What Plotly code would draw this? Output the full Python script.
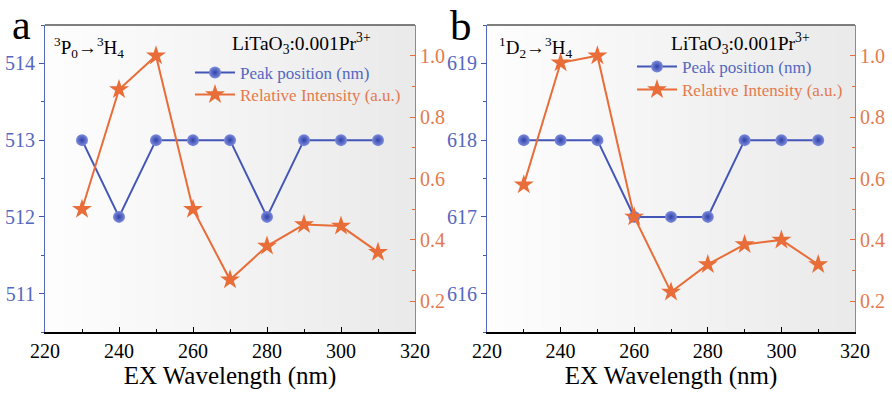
import plotly.graph_objects as go

# Excitation wavelengths (nm)
ex_wavelength = [230, 240, 250, 260, 270, 280, 290, 300, 310]

# (a) 3P0 -> 3H4 emission
peak_a = [513, 512, 513, 513, 513, 512, 513, 513, 513]
intensity_a = [0.50, 0.89, 1.00, 0.50, 0.27, 0.38, 0.45, 0.445, 0.36]

# (b) 1D2 -> 3H4 emission
peak_b = [618, 618, 618, 617, 617, 617, 618, 618, 618]
intensity_b = [0.58, 0.977, 1.00, 0.475, 0.23, 0.32, 0.385, 0.40, 0.32]

BLUE = "#4356b8"
BLUE_TXT = "#5468c0"
ORANGE = "#e86d38"
ORANGE_TXT = "#e47a4e"
FONT = "Times New Roman, Liberation Serif, serif"

fig = go.Figure()

panels = [
    dict(peak=peak_a, inten=intensity_a, xa="x", ya="y", ya2="y2", legends=("legend", "legend2")),
    dict(peak=peak_b, inten=intensity_b, xa="x2", ya="y3", ya2="y4", legends=("legend3", "legend4")),
]

for p in panels:
    fig.add_trace(go.Scatter(
        x=ex_wavelength, y=p["peak"], xaxis=p["xa"], yaxis=p["ya"],
        mode="lines+markers",
        name=f"<span style='color:{BLUE_TXT}'>Peak position (nm)</span>",
        line=dict(color=BLUE, width=2),
        marker=dict(symbol="circle", size=12, color="#7d8dde",
                    gradient=dict(type="radial", color="#3041a8"),
                    line=dict(width=0)),
        legend=p["legends"][0],
    ))
    fig.add_trace(go.Scatter(
        x=ex_wavelength, y=p["inten"], xaxis=p["xa"], yaxis=p["ya2"],
        mode="lines+markers",
        name=f"<span style='color:{ORANGE_TXT}'>Relative Intensity (a.u.)</span>",
        line=dict(color=ORANGE, width=2),
        marker=dict(symbol="star", size=15, color=ORANGE, line=dict(width=0)),
        legend=p["legends"][1],
    ))

# plot-area layout in paper fractions
W, H = 892, 396
y_dom = [(H - 332) / H, (H - 25) / H]
x_dom_a = [45 / W, 415 / W]
x_dom_b = [487 / W, 855 / W]


def xaxis(domain, anchor):
    return dict(
        domain=domain, anchor=anchor, range=[220, 320], automargin=True,
        tickmode="linear", tick0=220, dtick=20,
        ticks="inside", ticklen=5, tickwidth=1, tickcolor="black",
        minor=dict(ticks="inside", ticklen=3, dtick=10, tickcolor="black"),
        showline=True, linecolor="black", linewidth=1.5,
        showgrid=False, zeroline=False,
        tickfont=dict(family=FONT, size=20, color="black"),
        title=dict(text="EX Wavelength (nm)", font=dict(family=FONT, size=25, color="black"), standoff=5),
    )


def left_axis(rng, anchor):
    return dict(
        domain=y_dom, anchor=anchor, range=rng, dtick=1, automargin=False,
        ticks="outside", ticklen=5, tickwidth=1, tickcolor=BLUE,
        minor=dict(ticks="outside", ticklen=3, dtick=0.5, tickcolor=BLUE),
        showline=True, linecolor=BLUE_TXT, linewidth=1.2,
        showgrid=False, zeroline=False,
        tickfont=dict(family=FONT, size=20, color=BLUE_TXT),
    )


def right_axis(overlay, anchor):
    return dict(
        overlaying=overlay, anchor=anchor, side="right", range=[0.1, 1.1], automargin=False,
        tickmode="array", tickvals=[0.2, 0.4, 0.6, 0.8, 1.0],
        ticktext=["0.2", "0.4", "0.6", "0.8", "1.0"],
        ticks="inside", ticklen=5, tickwidth=1, tickcolor=ORANGE,
        minor=dict(ticks="inside", ticklen=3, tickvals=[0.1, 0.3, 0.5, 0.7, 0.9, 1.1], tickcolor=ORANGE),
        showline=True, linecolor=ORANGE, linewidth=1.2,
        showgrid=False, zeroline=False,
        tickfont=dict(family=FONT, size=20, color=ORANGE_TXT),
    )


# light horizontal gradient behind each plot area, plus a grey top frame line
shapes = []
n_strips = 40
c0, c1 = 253, 234
for xr, yr in [("x domain", "y domain"), ("x2 domain", "y3 domain")]:
    for i in range(n_strips):
        g = round(c0 + (c1 - c0) * i / (n_strips - 1))
        shapes.append(dict(type="rect", xref=xr, yref=yr, x0=i / n_strips, x1=(i + 1) / n_strips + 0.002,
                           y0=0, y1=1, fillcolor=f"rgb({g},{g},{g})", line=dict(width=0), layer="below"))
    shapes.append(dict(type="line", xref=xr, yref=yr, x0=0, x1=1, y0=1, y1=1,
                       line=dict(color="#555555", width=1.5)))

annotations = [
    dict(text="a", xref="paper", yref="paper", x=10 / W, y=1.0, xanchor="left", yanchor="top",
         showarrow=False, font=dict(family=FONT, size=42, color="black")),
    dict(text="b", xref="paper", yref="paper", x=448 / W, y=1.0, xanchor="left", yanchor="top",
         showarrow=False, font=dict(family=FONT, size=43, color="black")),
    dict(text="<sup>3</sup>P<sub>0</sub>→<sup>3</sup>H<sub>4</sub>", xref="x domain", yref="y domain",
         x=0.02, y=(332 - 47) / 307, xanchor="left", yanchor="middle",
         showarrow=False, font=dict(family=FONT, size=19, color="black")),
    dict(text="<sup>1</sup>D<sub>2</sub>→<sup>3</sup>H<sub>4</sub>", xref="x2 domain", yref="y3 domain",
         x=0.026, y=(332 - 47) / 307, xanchor="left", yanchor="middle",
         showarrow=False, font=dict(family=FONT, size=19, color="black")),
    dict(text="LiTaO<sub>3</sub>:0.001Pr<sup>3+</sup>", xref="x domain", yref="y domain",
         x=(230 - 45) / 370, y=(332 - 43) / 307, xanchor="left", yanchor="middle",
         showarrow=False, font=dict(family=FONT, size=19.5, color="black")),
    dict(text="LiTaO<sub>3</sub>:0.001Pr<sup>3+</sup>", xref="x2 domain", yref="y3 domain",
         x=(669 - 487) / 368, y=(332 - 43) / 307, xanchor="left", yanchor="middle",
         showarrow=False, font=dict(family=FONT, size=19.5, color="black")),
]

# one single-entry legend per row so row spacing can be set freely
legend_style = dict(bgcolor="rgba(0,0,0,0)", borderwidth=0, font=dict(family=FONT, size=17),
                    itemwidth=40, xanchor="left", yanchor="middle")

fig.update_layout(
    width=W, height=H,
    margin=dict(l=0, r=0, t=0, b=0, autoexpand=False),
    font=dict(family=FONT),
    paper_bgcolor="white", plot_bgcolor="rgba(0,0,0,0)",
    xaxis=xaxis(x_dom_a, "y"),
    yaxis=left_axis([510.5, 514.5], "x"),
    yaxis2=right_axis("y", "x"),
    xaxis2=xaxis(x_dom_b, "y3"),
    yaxis3=left_axis([615.5, 619.5], "x2"),
    yaxis4=right_axis("y3", "x2"),
    legend=dict(legend_style, x=190 / W, y=1 - 73 / H),
    legend2=dict(legend_style, x=190 / W, y=1 - 95 / H),
    legend3=dict(legend_style, x=632 / W, y=1 - 67 / H),
    legend4=dict(legend_style, x=632 / W, y=1 - 90 / H),
    shapes=shapes,
    annotations=annotations,
    showlegend=True,
)

fig.write_html("out.html")
